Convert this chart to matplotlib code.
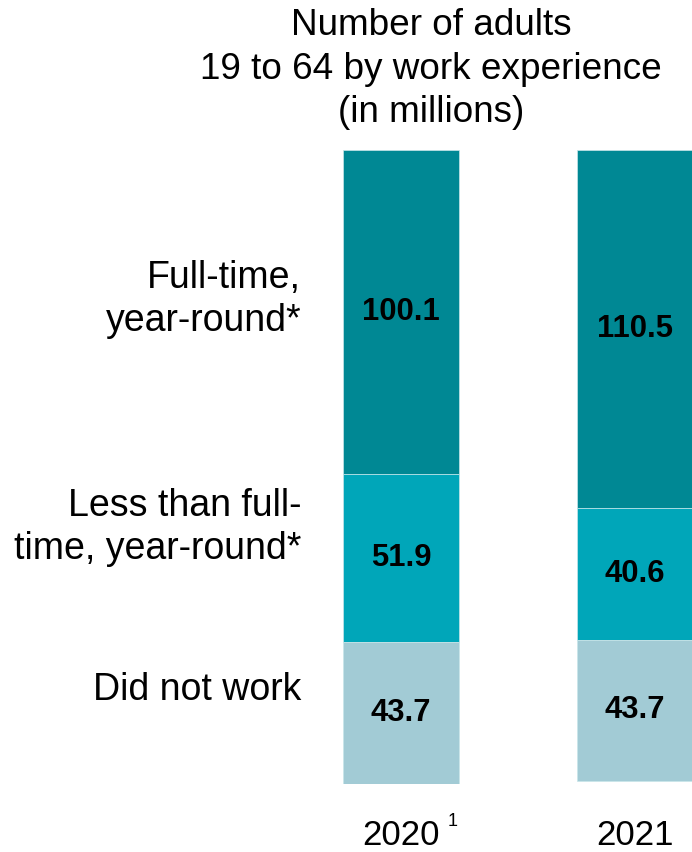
import matplotlib
matplotlib.use("Agg")
import matplotlib.pyplot as plt
import numpy as np

plt.rcParams['font.family'] = ['Liberation Sans', 'DejaVu Sans']

# ---- data ----
years = ["2020", "2021"]
categories = ["Full-time,\nyear-round*", "Less than full-\ntime, year-round*", "Did not work"]
full_time = [100.1, 110.5]
less_than_full_time = [51.9, 40.6]
did_not_work = [43.7, 43.7]
title = "Number of adults\n19 to 64 by work experience\n(in millions)"
footnote_mark = "1"

# ---- style ----
colors = ["#008894", "#00A6B9", "#A2CBD5"]
W, H = 692, 852
fig = plt.figure(figsize=(W / 100, H / 100), dpi=100)
ax = fig.add_axes([343 / W, (H - 784) / H, (692 - 343) / W, 634 / H])

series = [np.array(full_time), np.array(less_than_full_time), np.array(did_not_work)]
x = np.arange(len(years))
bar_w = 0.496
bottom = np.zeros(len(years))
centers = []
for vals, col in zip(series, colors):
    ax.bar(x, vals, bottom=bottom, width=bar_w, color=col, edgecolor="#c8e6ea",
           linewidth=0.5)
    mids = bottom + vals / 2
    centers.append(mids)
    for xi, m, v in zip(x, mids, vals):
        ax.text(xi, m, f"{v:.1f}", ha="center", va="center", fontsize=22.3,
                fontweight="bold", color="black")
    bottom = bottom + vals

totals = bottom
ax.set_ylim(totals.max(), 0)
ax.set_xlim(-bar_w / 2, 1 + 0.243)
for s in ax.spines.values():
    s.set_visible(False)
ax.set_yticks([])
ax.set_xticks(x)
ax.set_xticklabels(years, fontsize=25)
ax.tick_params(axis="x", length=0, pad=25)

# footnote marker next to 2020
ax.annotate(footnote_mark, xy=(x[0], 0), xycoords=("data", "axes fraction"),
            xytext=(37, -21), textcoords="offset points", fontsize=13,
            ha="center", va="top", annotation_clip=False)

# category labels to the left of the first bar
label_offsets = [-9, -22, -17]  # points, vertical shift relative to segment centre
for lab, mids, dy in zip(categories, centers, label_offsets):
    ax.annotate(lab, xy=(0, mids[0]), xycoords=("axes fraction", "data"),
                xytext=(-30, -dy), textcoords="offset points", ha="right",
                va="center", fontsize=27, linespacing=1.25, annotation_clip=False)

fig.text(431 / W, 1 - 8 / H, title, ha="center", va="top", fontsize=26.6,
         linespacing=1.32)

fig.savefig("out.png", dpi=100)
